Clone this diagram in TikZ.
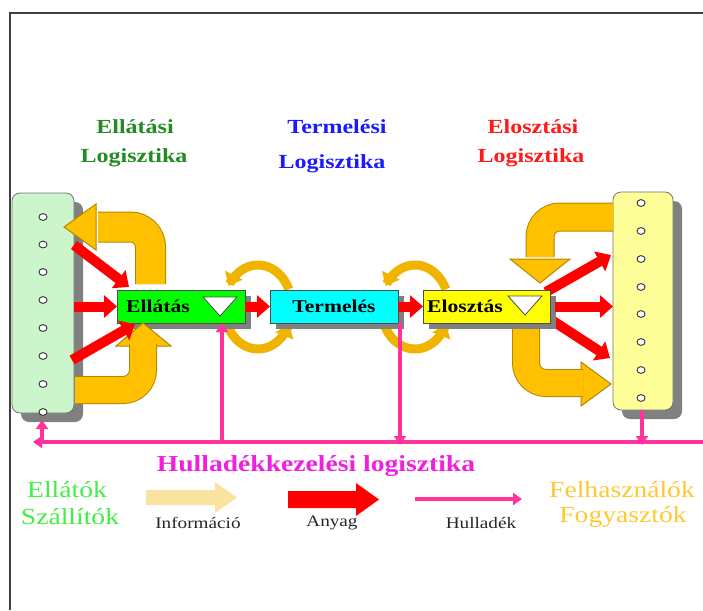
\documentclass[tikz,border=0pt]{standalone}
\usepackage{fontspec}
\setmainfont{Liberation Serif}
\usepackage{graphicx}
\usetikzlibrary{arrows.meta,shadows}
\definecolor{framec}{HTML}{404040}
\definecolor{gold}{HTML}{FFC000}
\definecolor{goldline}{HTML}{B08800}
\definecolor{circgold}{HTML}{F0B400}
\definecolor{pinkc}{HTML}{FF3399}
\definecolor{magtext}{HTML}{F020E0}
\definecolor{ttlgreen}{HTML}{228B22}
\definecolor{ttlblue}{HTML}{1A1AFF}
\definecolor{ttlred}{HTML}{FF1A1A}
\definecolor{mint}{HTML}{CCF5CC}
\definecolor{paleyel}{HTML}{FFFF99}
\definecolor{legyel}{HTML}{FAE3A0}
\definecolor{supc}{HTML}{40F040}
\definecolor{userc}{HTML}{FFC830}
\definecolor{shadowgray}{HTML}{808080}
\definecolor{procgreen}{HTML}{00FF00}
\definecolor{proccyan}{HTML}{00FFFF}
\definecolor{procyel}{HTML}{FFFF00}
\newcommand{\hs}[1]{\scalebox{1.2}[1]{#1}}
\begin{document}
\begin{tikzpicture}[x=1pt,y=-1pt,
 ttl/.style={font=\fontsize{20}{24}\selectfont\bfseries, inner sep=0pt},
 boxtxt/.style={font=\fontsize{18}{22}\selectfont\bfseries, inner sep=0pt, text=black},
 bigtxt/.style={font=\fontsize{23}{27}\selectfont, inner sep=0pt},
 legtxt/.style={font=\fontsize{16}{19}\selectfont, inner sep=0pt, text=black!85},
 procbox/.style={draw=black!70, line width=0.8pt, minimum height=33pt, inner sep=0pt, outer sep=0pt,
   drop shadow={shadow xshift=6pt, shadow yshift=-6pt, fill=shadowgray, opacity=1}},
 sidebox/.style={draw=black!55, line width=0.8pt, rounded corners=8pt, inner sep=0pt, outer sep=0pt,
   drop shadow={shadow xshift=9pt, shadow yshift=-9pt, fill=shadowgray, opacity=1}},
 hole/.style={draw=black!80, fill=white, line width=0.9pt},
 redarr/.style={draw=red, line width=10pt, -{Triangle[length=13pt,width=22pt]}},
 pinkarr/.style={draw=pinkc, line width=3.5pt, -{Triangle[length=9pt,width=12pt]}},
 circarr/.style={draw=circgold, line width=9pt, -{Triangle[length=12pt,width=19pt]}},
 uout/.style={draw=goldline, line width=#1, rounded corners=20pt},
 uin/.style={draw=gold, line width=#1, rounded corners=20pt},
 uhead/.style={fill=gold, draw=goldline, line width=1pt}]
\useasboundingbox (0,0) rectangle (703,610);
\fill[white] (0,0) rectangle (703,610);
\draw[framec, line width=1.5pt] (10,610) -- (10,13) -- (703,13);

% titles
\node[ttl, text=ttlgreen] (t1a) at (135,127) {\hs{Ellátási}};
\node[ttl, text=ttlgreen] (t1b) at (134,158) {\hs{Logisztika}};
\node[ttl, text=ttlblue] (t2a) at (337,127) {\hs{Termelési}};
\node[ttl, text=ttlblue] (t2b) at (332,164) {\hs{Logisztika}};
\node[ttl, text=ttlred] (t3a) at (533,127) {\hs{Elosztási}};
\node[ttl, text=ttlred] (t3b) at (531,158) {\hs{Logisztika}};

% side boxes
\node[sidebox, fill=mint, minimum width=62pt, minimum height=220pt] (lb) at (43,303) {};
\node[sidebox, fill=paleyel, minimum width=60pt, minimum height=218pt] (rb) at (643,301) {};
\foreach \yy in {217,244.5,272,300,328,356,384,412}
  \draw[hole] (43,\yy) ellipse [x radius=4pt, y radius=3.4pt];
\foreach \yy in {203,231,259,287,314,342,370,398}
  \draw[hole] (641,\yy) ellipse [x radius=4pt, y radius=3.4pt];

% circular arrows
\draw[circarr] plot[domain=25:150, samples=30, smooth] ({258+34*cos(\x)},{307-42*sin(\x)});
\draw[circarr] plot[domain=205:335, samples=30, smooth] ({258+34*cos(\x)},{307-42*sin(\x)});
\draw[circarr] plot[domain=25:150, samples=30, smooth] ({415+34*cos(\x)},{307-42*sin(\x)});
\draw[circarr] plot[domain=205:335, samples=30, smooth] ({415+34*cos(\x)},{307-42*sin(\x)});

% U-shaped information arrows
\filldraw[uhead] (96,204) -- (64,227) -- (96,250) -- cycle;
\draw[uout=31pt] (150.5,284) -- (150.5,227) -- (98,227);
\draw[uin=29pt] (150.5,284) -- (150.5,227) -- (98,227);

\filldraw[uhead] (510,259) -- (540,283) -- (570,259) -- cycle;
\draw[uout=29pt] (613,217) -- (540,217) -- (540,257);
\draw[uin=27pt] (613,217) -- (540,217) -- (540,257);

\filldraw[uhead] (581,362) -- (611,384) -- (581,406) -- cycle;
\draw[uout=28pt] (526,322) -- (526,383) -- (583,383);
\draw[uin=26pt] (526,322) -- (526,383) -- (583,383);

% material arrows (left)
\coordinate (m1s) at (74,245);
\coordinate (m1e) at (129,287);
\coordinate (m3s) at (72,360);
\coordinate (m3e) at (135,324);
\draw[redarr] (m1s) -- (m1e);
% material arrows (right)
\coordinate (r1s) at (546,292);
\coordinate (r1e) at (611,255);
\coordinate (r2s) at (555,306.5);
\coordinate (r3s) at (553,321);
\coordinate (r3e) at (610,358);
\draw[redarr] (r1s) -- (r1e);
\draw[redarr] (r3s) -- (r3e);

% process boxes
\node[procbox, fill=procgreen, minimum width=128pt] (ell) at (181,306.5) {};
\node[procbox, fill=proccyan, minimum width=128pt] (ter) at (334,306.5) {};
\node[procbox, fill=procyel, minimum width=127pt] (elo) at (486.5,306.5) {};
\node[boxtxt] (ellt) at (158,306) {\hs{Ellátás}};
\node[boxtxt] (tert) at (334,306) {\hs{Termelés}};
\node[boxtxt] (elot) at (465,306) {\hs{Elosztás}};
\filldraw[fill=white, draw=black!70, line width=0.8pt] (203,297) -- (237,297) -- (220,316) -- cycle;
\filldraw[fill=white, draw=black!70, line width=0.8pt] (508,296) -- (542,296) -- (525,315) -- cycle;

% lower-left U arrow (in front of the box shadow)
\filldraw[uhead] (116,346) -- (143,323) -- (171,346) -- cycle;
\draw[uout=28pt] (75,390) -- (143,390) -- (143,344);
\draw[uin=26pt] (75,390) -- (143,390) -- (143,344);
\draw[redarr] (m3s) -- (m3e);

\draw[redarr] (lb.east |- ell.west) -- (ell.west);
\draw[redarr] (ell.east) -- (ter.west);
\draw[redarr] (ter.east) -- (elo.west);
\draw[redarr] (r2s) -- (rb.west |- r2s);

% waste lines
\coordinate (pkR) at (703,442);
\coordinate (pkL) at (33,442);
\coordinate (pkA) at (42,442);
\coordinate (pkAt) at (42,420);
\coordinate (pkB) at (222,442);
\coordinate (pkC) at (400,323);
\coordinate (pkCe) at (400,445);
\coordinate (pkD) at (642,410);
\draw[pinkarr] (pkR) -- (pkL);
\draw[pinkarr] (pkA) -- (pkAt);
\draw[pinkarr] (pkB) -- (pkB |- ell.south);
\draw[pinkarr] (pkC) -- (pkCe);
\draw[pinkarr] (pkD) -- (pkD |- pkCe);

% bottom texts
\node[font=\fontsize{23}{27}\selectfont\bfseries, inner sep=0pt, text=magtext] (hk) at (316,466) {\hs{Hulladékkezelési logisztika}};
\node[bigtxt, text=supc] (sup1) at (67,490) {\hs{Ellátók}};
\node[bigtxt, text=supc] (sup2) at (70,517) {\hs{Szállítók}};
\node[bigtxt, text=userc] (us1) at (622,490) {\hs{Felhasználók}};
\node[bigtxt, text=userc] (us2) at (623,517) {\hs{Fogyasztók}};

% legend
\fill[legyel] (146,490) -- (215,490) -- (215,482) -- (237,497.5) -- (215,513) -- (215,505) -- (146,505) -- cycle;
\fill[red] (288,491) -- (356,491) -- (356,483) -- (379,499.5) -- (356,516) -- (356,508) -- (288,508) -- cycle;
\coordinate (lgs) at (415,499);
\coordinate (lge) at (522,499);
\draw[pinkarr] (lgs) -- (lge);
\node[legtxt] (li) at (198,523) {\hs{Információ}};
\node[legtxt] (la) at (332,523) {\hs{Anyag}};
\node[legtxt] (lh) at (481,523) {\hs{Hulladék}};
\end{tikzpicture}
\end{document}
